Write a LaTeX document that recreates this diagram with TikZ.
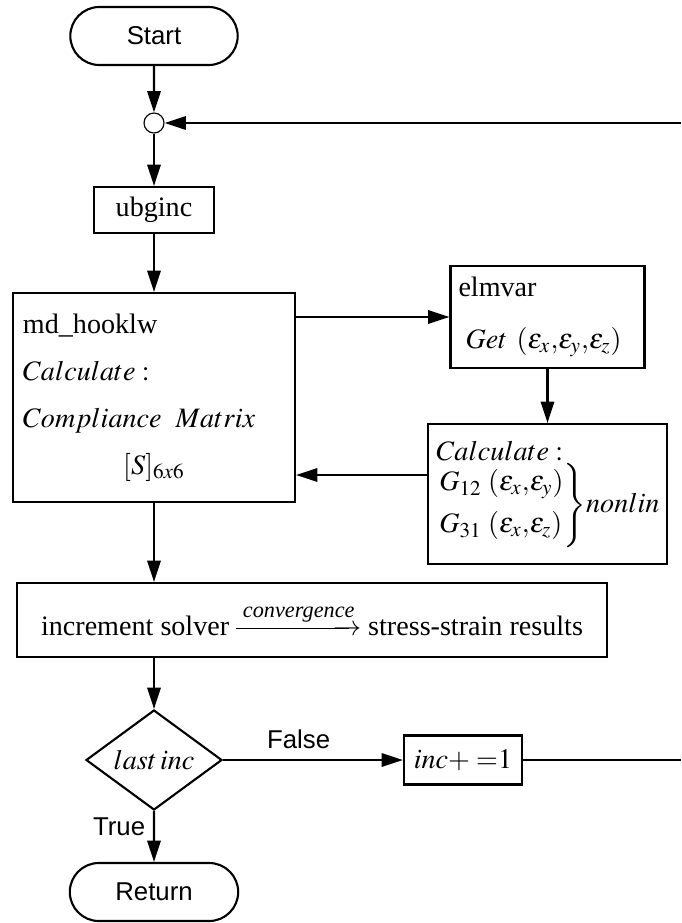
\documentclass[tikz,border=0pt]{standalone}
\usepackage{amsmath}
\usepackage{mathptmx}
\usepackage{fontspec}
\setmainfont{Liberation Serif}
\newfontfamily\flowsans{Liberation Sans}
\usetikzlibrary{arrows.meta,shapes.geometric,shapes.misc}
% long solid arrow with its label on top
\newcommand{\convarrow}[1]{\mathrel{\overset{\mbox{\fontsize{9.5pt}{11pt}\selectfont\itshape #1}}{\vcenter{\hrule width 4em height 0.5pt}\mkern-14mu\rightarrow}}}

\begin{document}
\begin{tikzpicture}[
    x=0.015cm, y=-0.015cm,          % one unit is one pixel, y runs downwards
    font=\fontsize{12pt}{14pt}\selectfont,
    line width=0.9pt,
    >={Triangle[length=0.32cm,width=0.2cm]},
    procbox/.style={
        draw,
        rectangle,
        inner sep=0pt               % sizes are given by minimum width/height
    },
    terminal/.style={
        draw,
        rounded rectangle,          % pill shaped start/return
        font=\flowsans\fontsize{11pt}{13pt}\selectfont
    },
    decision/.style={
        draw,
        diamond,
        aspect=1.36,
        inner sep=0pt
    },
    edgelabel/.style={font=\flowsans\fontsize{11pt}{13pt}\selectfont}
]
\useasboundingbox (0,0) rectangle (681,923);

\node[terminal, minimum width=2.745cm, minimum height=0.87cm] (start) at (154,36) {Start};
\node[draw, circle, fill=white, minimum size=0.3cm, inner sep=0pt, line width=0.5pt] (merge) at (154,123) {};
\coordinate (loopin) at (681,123);
\node[procbox, minimum width=1.8cm, minimum height=0.69cm] (ubginc) at (154,210) {ubginc};
\node[procbox, minimum width=4.23cm, minimum height=3.135cm, text width=3.93cm, align=left,
      font=\fontsize{12pt}{20pt}\selectfont] (hooklw) at (154,397.5)
    {md\_hooklw\\
     $Calculate:$\\
     $Compliance\enspace Matrix$\\
     \makebox[3.93cm]{$[S]_{6x6}$}};
\node[procbox, minimum width=2.91cm, minimum height=1.53cm, text width=2.67cm, align=left,
      font=\fontsize{12pt}{22pt}\selectfont] (elmvar) at (547.5,317)
    {elmvar\\
     \hspace*{3pt}$Get\;\left(\varepsilon_x{,}\varepsilon_y{,}\varepsilon_z\right)$};
\node[procbox, minimum width=3.585cm, minimum height=2.1cm, text width=3.33cm, align=left] (calc) at (547.5,494)
    {$Calculate:$\\
     ${\left.\begin{array}{@{}l@{}}
        G_{12}\,\left(\varepsilon_x{,}\varepsilon_y\right)\\[4pt]
        G_{31}\,\left(\varepsilon_x{,}\varepsilon_z\right)
      \end{array}\right\}}nonlin$};
\coordinate (calcout) at ([yshift=0.285cm]calc.west);
\node[procbox, minimum width=8.85cm, minimum height=1.11cm] (solver) at (312,620)
    {increment solver $\convarrow{convergence}$ stress-strain results};
\node[decision, minimum width=2.04cm, minimum height=1.5cm] (lastinc) at (154,760) {$last\,inc$};
\node[procbox, minimum width=1.77cm, minimum height=0.735cm] (incstep) at (463,760) {$inc{+}\;{=}1$};
\coordinate (loopout) at (681,760);
\node[terminal, minimum width=2.76cm, minimum height=0.87cm] (ret) at (154,892) {Return};

% main column
\draw[->] (start) -- (merge);
\draw[->] (loopin) -- (merge);
\draw[->] (merge) -- (ubginc);
\draw[->] (ubginc) -- (hooklw);
\draw[->] (hooklw.east |- elmvar) -- (elmvar);
\draw[->] (elmvar) -- (calc);
\draw[->] (calcout) -- (calcout -| hooklw.east);
\draw[->] (hooklw) -- (hooklw |- solver.north);
\draw[->] (lastinc |- solver.south) -- (lastinc);
\draw[->] (lastinc) -- node[edgelabel, pos=0.42, above=1pt] {False} (incstep);
\draw (incstep) -- (loopout);
\draw[->] (lastinc) -- node[edgelabel, pos=0.3, left=0pt] {True} (ret);
\end{tikzpicture}
\end{document}
